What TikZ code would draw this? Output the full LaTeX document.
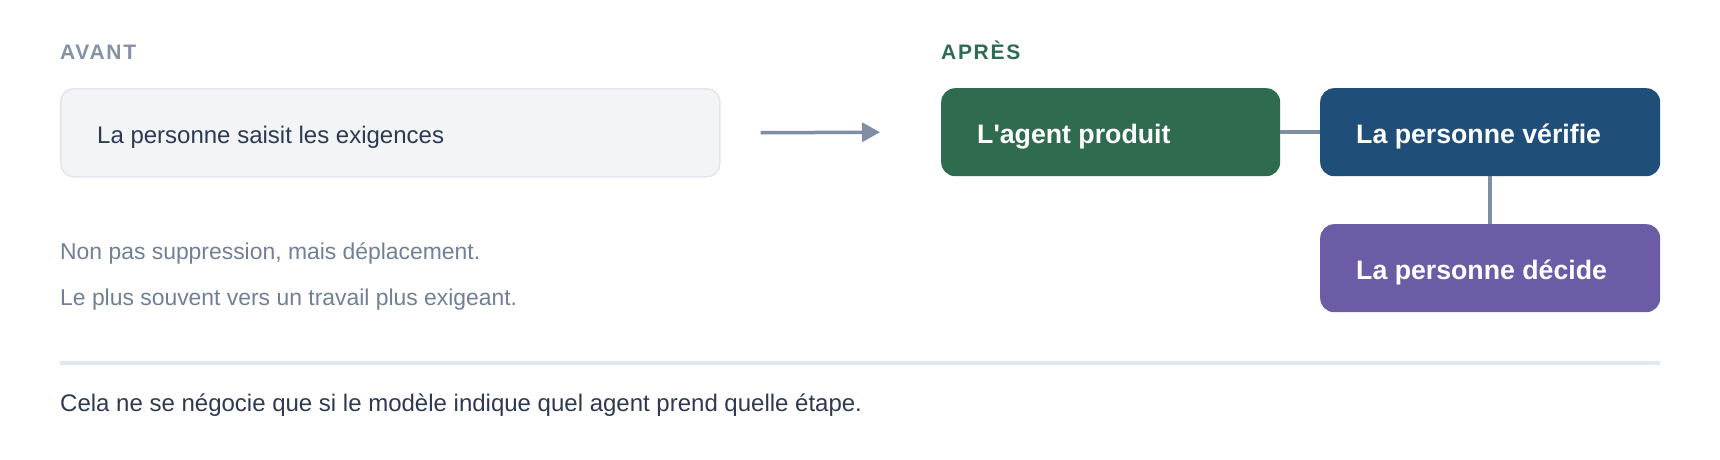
\documentclass[tikz,border=0pt]{standalone}
\usepackage{fontspec}
\setmainfont{Liberation Sans}
\newfontfamily\headfont[LetterSpace=8]{Liberation Sans}
\usetikzlibrary{arrows.meta}
\definecolor{headgray}{HTML}{8492A6}
\definecolor{headgreen}{HTML}{2F6B4F}
\definecolor{boxfill}{HTML}{F3F4F6}
\definecolor{boxline}{HTML}{E2E5EB}
\definecolor{darktext}{HTML}{2D3A52}
\definecolor{subtext}{HTML}{718096}
\definecolor{connector}{HTML}{7F8EA3}
\definecolor{agentgreen}{HTML}{2F6B4F}
\definecolor{verifblue}{HTML}{1F4E79}
\definecolor{decidepurple}{HTML}{6B5CA5}
\definecolor{divider}{HTML}{E2E8F0}
\tikzset{
  header/.style={font=\headfont\bfseries\fontsize{21pt}{25pt}\selectfont, anchor=base west, inner sep=0pt},
  stepbox/.style={rounded corners=14pt, minimum width=340pt, minimum height=88pt, anchor=north west, inner sep=0pt},
  graybox/.style={draw=boxline, line width=1.5pt, fill=boxfill, rounded corners=13pt, minimum width=659pt, minimum height=88pt, anchor=north west, inner sep=0pt},
  plaintext/.style={font=\fontsize{24pt}{28pt}\selectfont, text=darktext, anchor=base west, inner sep=0pt},
  steptext/.style={font=\bfseries\fontsize{26.7pt}{30pt}\selectfont, text=white, anchor=base west, inner sep=0pt},
  notetext/.style={font=\fontsize{22.9pt}{27pt}\selectfont, text=subtext, anchor=base west, inner sep=0pt},
  link/.style={draw=connector, line width=3.5pt}
}
\begin{document}
\begin{tikzpicture}[x=1pt,y=-1pt]
\useasboundingbox[fill=white] (0,0) rectangle (1720,460);
% headers
\node[header, text=headgray] (avant) at (60,59.5) {AVANT};
\node[header, text=headgreen] (apres) at (941,59.5) {APRÈS};
% before box
\node[graybox] (before) at (60,88) {};
\node[plaintext] (beforetxt) at (97,143.5) {La personne saisit les exigences};
% after boxes
\node[stepbox, fill=agentgreen, minimum width=339pt] (prod) at (941,88) {};
\node[steptext] (prodtxt) at (977,143.5) {L\textquotesingle agent produit};
\node[stepbox, fill=verifblue] (verif) at (1320,88) {};
\node[steptext] (veriftxt) at (1356,143.5) {La personne vérifie};
\node[stepbox, fill=decidepurple] (decide) at (1320,224) {};
\node[steptext] (decidetxt) at (1356,279.5) {La personne décide};
% connectors
\draw[link, -{Triangle[length=18pt,width=19pt]}] ([xshift=40pt]before.east) -- ([xshift=-61pt]prod.west);
\draw[link] (prod.east) -- (verif.west);
\draw[link] (verif.south) -- (decide.north);
% notes
\node[notetext] (note1) at (60,259) {Non pas suppression, mais déplacement.};
\node[notetext] (note2) at (60,305) {Le plus souvent vers un travail plus exigeant.};
% divider
\coordinate (divl) at (60,363);
\coordinate (divr) at (1660,363);
\draw[divider, line width=3.5pt] (divl) -- (divr);
\node[plaintext] (footer) at (60,411) {Cela ne se négocie que si le modèle indique quel agent prend quelle étape.};
\end{tikzpicture}
\end{document}
